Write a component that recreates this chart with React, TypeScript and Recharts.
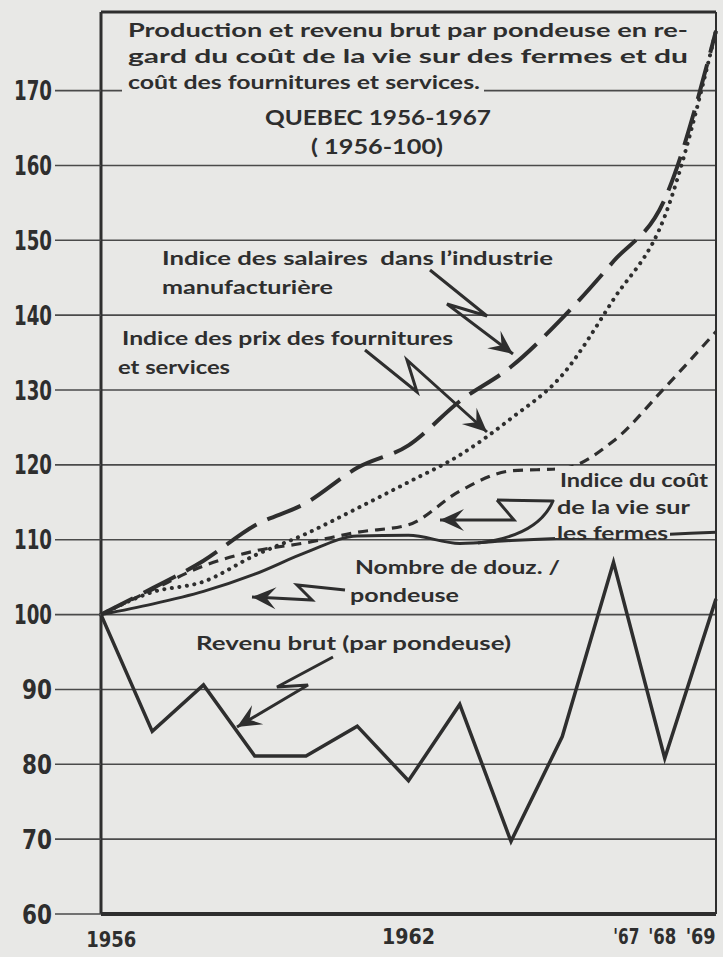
import React from 'react';
import { LineChart, Line, XAxis, YAxis, CartesianGrid, ReferenceLine } from 'recharts';

// ---------- data ----------
const years = [1956, 1957, 1958, 1959, 1960, 1961, 1962, 1963, 1964, 1965, 1966, 1967, 1968];
const revenuBrut = [100, 84.4, 90.6, 81.1, 81.1, 85.1, 77.8, 88.0, 69.7, 83.7, 107.0, 80.8, 102.1];
const nombreDouzaines = [100, 101.4, 103.1, 105.4, 108.3, 110.5, 110.6, 109.5, 109.9, 110.2, 110.4, 110.7, 111.0];
const indiceSalaires = [100, 103.5, 107.2, 111.9, 114.9, 119.6, 122.6, 128.5, 133.1, 139.6, 147.2, 155.5, 178.0];
const indiceFournitures = [100, 103.0, 104.4, 107.9, 110.8, 114.2, 117.7, 121.3, 126.2, 132.0, 142.1, 153.2, 178.0];
const indiceCoutVie = [100, 103.3, 106.5, 108.5, 109.6, 111.0, 112.0, 116.5, 119.2, 119.5, 123.2, 130.3, 137.8];

const yTicks = [60, 70, 80, 90, 100, 110, 120, 130, 140, 150, 160, 170];
const xTickLabels = ['1956', '1962', "'67", "'68", "'69"];
const xTickPositions = [1956.2, 1962.0, 1966.25, 1966.95, 1967.7];

const data = years.map((year, i) => ({
  year,
  revenu: revenuBrut[i],
  nombre: nombreDouzaines[i],
  salaires: indiceSalaires[i],
  fournitures: indiceFournitures[i],
  coutVie: indiceCoutVie[i],
}));

// ---------- style ----------
const W = 723;
const H = 957;
const PAPER = '#e8e8e6';
const INK = '#2e2e2e';
const GRID = '#4a4a4a';
const FONT = "'Lato', 'Open Sans', 'DejaVu Sans', sans-serif";
const HAND = "'Liberation Sans Narrow', 'DejaVu Sans Condensed', 'Liberation Sans', sans-serif";

const YTick = (props: any) => {
  const { x, y, payload } = props;
  const s = String(payload.value);
  return (
    <text
      x={x}
      y={y + 9.5}
      textAnchor="end"
      fontFamily={HAND}
      fontWeight={700}
      fontSize={26}
      fill={INK}
      textLength={s.length === 3 ? 38 : 30}
      lengthAdjust="spacingAndGlyphs"
    >
      {s}
    </text>
  );
};

const xLabelWidths = [50, 53, 26, 28, 30];
const XTick = (props: any) => {
  const { x, index } = props;
  const label = xTickLabels[index] ?? '';
  return (
    <text
      x={x}
      y={index === 0 ? 947 : 944}
      textAnchor="middle"
      fontFamily={HAND}
      fontWeight={700}
      fontSize={22}
      fill={INK}
      textLength={xLabelWidths[index] ?? 30}
      lengthAdjust="spacingAndGlyphs"
    >
      {label}
    </text>
  );
};

// ---------- annotations (layout only) ----------
type Ann = { t: string; x: number; y: number; w: number; fs: number; anchor?: 'start' | 'middle' };
const annotations: Ann[] = [
  { t: 'Production et revenu brut par pondeuse en re-', x: 128, y: 30, w: 560, fs: 19 },
  { t: 'gard du coût de la vie sur des fermes et du', x: 128, y: 56, w: 560, fs: 19 },
  { t: 'coût des fournitures et services.', x: 128, y: 82, w: 352, fs: 19 },
  { t: 'QUEBEC 1956-1967', x: 378, y: 118, w: 226, fs: 21, anchor: 'middle' },
  { t: '( 1956-100)', x: 377, y: 147, w: 132, fs: 21, anchor: 'middle' },
  { t: 'Indice des salaires  dans l\u2019industrie', x: 162, y: 258, w: 391, fs: 19.5 },
  { t: 'manufacturière', x: 162, y: 287, w: 171, fs: 19.5 },
  { t: 'Indice des prix des fournitures', x: 122, y: 338, w: 331, fs: 19.5 },
  { t: 'et services', x: 118, y: 367, w: 112, fs: 19.5 },
  { t: 'Indice du coût', x: 560, y: 480, w: 148, fs: 19.5 },
  { t: 'de la vie sur', x: 557, y: 507, w: 133, fs: 19.5 },
  { t: 'les fermes', x: 557, y: 533, w: 111, fs: 19.5 },
  { t: 'Nombre de douz. /', x: 355, y: 567, w: 205, fs: 19.5 },
  { t: 'pondeuse', x: 350, y: 595, w: 109, fs: 19.5 },
  { t: 'Revenu brut (par pondeuse)', x: 196, y: 643, w: 315, fs: 19.5 },
];

type Pt = [number, number];
const arrows: { pts: Pt[]; path?: string }[] = [
  { pts: [[430, 270], [487, 316], [447, 304], [513, 354]] },
  { pts: [[365, 350], [417, 392], [407, 360], [487, 432]] },
  { pts: [[497, 500], [514, 520], [440, 520]], path: 'M 478 543 Q 538 536 553 501 L 497 500' },
  { pts: [[345, 590], [297, 585], [312, 600], [252, 597]] },
  { pts: [[333, 657], [277, 687], [308, 685], [237, 727]] },
];

const arrowHead = (tip: Pt, from: Pt) => {
  const dx = tip[0] - from[0];
  const dy = tip[1] - from[1];
  const len = Math.hypot(dx, dy) || 1;
  const ux = dx / len;
  const uy = dy / len;
  const nx = -uy;
  const ny = ux;
  const L = 24;
  const Wd = 11;
  const p1: Pt = [tip[0] - ux * L + nx * Wd, tip[1] - uy * L + ny * Wd];
  const p2: Pt = [tip[0] - ux * L * 0.6, tip[1] - uy * L * 0.6];
  const p3: Pt = [tip[0] - ux * L - nx * Wd, tip[1] - uy * L - ny * Wd];
  return [tip, p1, p2, p3].map((p) => p.join(',')).join(' ');
};

const Overlay = () => (
  <svg
    width={W}
    height={H}
    style={{ position: 'absolute', left: 0, top: 0, pointerEvents: 'none' }}
  >
    {/* paper behind texts that sit over lines */}
    <rect x={122} y={70} width={362} height={26} fill={PAPER} />
    <rect x={555} y={466} width={115} height={72} fill={PAPER} />
    {annotations.map((a, i) => (
      <text
        key={i}
        x={a.x}
        y={a.y + a.fs * 0.35}
        textAnchor={a.anchor ?? 'start'}
        fontFamily={FONT}
        fontWeight={700}
        fontSize={a.fs}
        fill={INK}
        textLength={a.w}
        lengthAdjust="spacingAndGlyphs"
        style={{ whiteSpace: 'pre' }}
      >
        {a.t}
      </text>
    ))}
    {arrows.map((a, i) => (
      <g key={i}>
        {a.path && <path d={a.path} fill="none" stroke={INK} strokeWidth={3} strokeLinejoin="round" />}
        <polyline
          points={a.pts.map((p) => p.join(',')).join(' ')}
          fill="none"
          stroke={INK}
          strokeWidth={3}
          strokeLinejoin="miter"
        />
        <polygon
          points={arrowHead(a.pts[a.pts.length - 1], a.pts[a.pts.length - 2])}
          fill={INK}
        />
      </g>
    ))}
  </svg>
);

export default function App() {
  return (
    <div
      style={{
        position: 'absolute',
        left: 0,
        top: 0,
        width: W,
        height: H,
        background: PAPER,
        overflow: 'hidden',
      }}
    >
      <LineChart
        width={W}
        height={H}
        data={data}
        margin={{ top: 12, right: 7, bottom: 0, left: 0 }}
      >
        <CartesianGrid vertical={false} stroke={GRID} strokeWidth={1.6} />
        <XAxis
          dataKey="year"
          type="number"
          domain={[1956, 1968]}
          ticks={xTickPositions}
          interval={0}
          height={43}
          tickLine={false}
          axisLine={{ stroke: INK, strokeWidth: 4 }}
          tick={(p: any) => <XTick {...p} />}
        />
        <YAxis
          type="number"
          domain={[60, 180.5]}
          ticks={yTicks}
          allowDataOverflow
          interval={0}
          width={101}
          tickSize={46}
          tickMargin={3}
          axisLine={{ stroke: INK, strokeWidth: 3 }}
          tickLine={{ stroke: GRID, strokeWidth: 1.6 }}
          tick={(p: any) => <YTick {...p} />}
        />
        <ReferenceLine y={180.5} stroke={INK} strokeWidth={3} />
        <ReferenceLine x={1968} stroke={INK} strokeWidth={2} />
        <Line
          dataKey="revenu"
          type="linear"
          stroke={INK}
          strokeWidth={3.5}
          dot={false}
          activeDot={false}
          isAnimationActive={false}
        />
        <Line
          dataKey="nombre"
          type="monotone"
          stroke={INK}
          strokeWidth={3}
          dot={false}
          activeDot={false}
          isAnimationActive={false}
        />
        <Line
          dataKey="coutVie"
          type="monotone"
          stroke={INK}
          strokeWidth={3.2}
          strokeDasharray="10 7"
          dot={false}
          activeDot={false}
          isAnimationActive={false}
        />
        <Line
          dataKey="fournitures"
          type="monotone"
          stroke={INK}
          strokeWidth={4}
          strokeDasharray="0.1 7.5"
          strokeLinecap="round"
          dot={false}
          activeDot={false}
          isAnimationActive={false}
        />
        <Line
          dataKey="salaires"
          type="monotone"
          stroke={INK}
          strokeWidth={4}
          strokeDasharray="36 12"
          dot={false}
          activeDot={false}
          isAnimationActive={false}
        />
      </LineChart>
      <Overlay />
    </div>
  );
}
